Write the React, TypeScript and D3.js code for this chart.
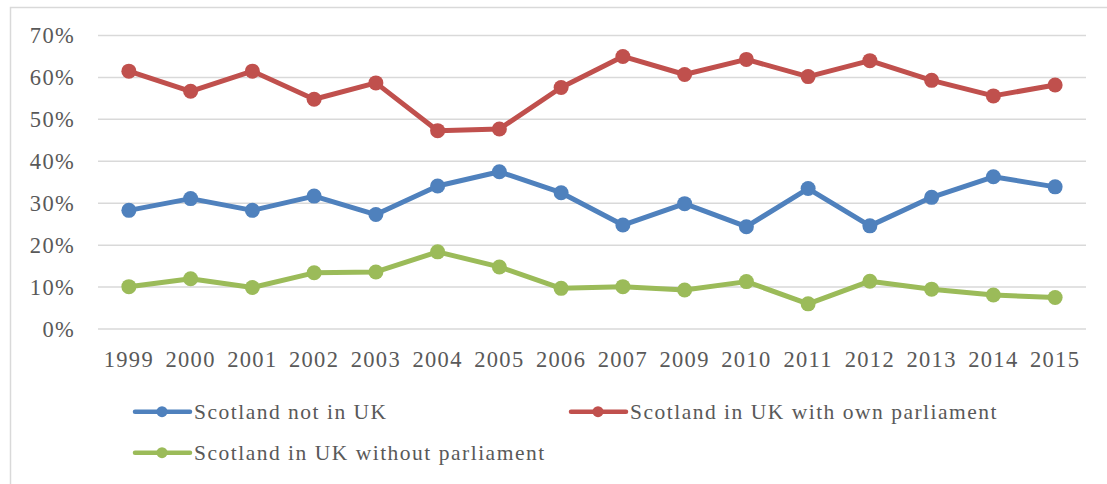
import React from "react";
import * as d3 from "d3";

const years = ["1999","2000","2001","2002","2003","2004","2005","2006","2007","2009","2010","2011","2012","2013","2014","2015"];
const notInUK = [28.3,31.1,28.3,31.7,27.3,34.1,37.5,32.5,24.8,29.9,24.4,33.5,24.6,31.4,36.3,33.9];
const withParliament = [61.5,56.7,61.5,54.8,58.7,47.3,47.7,57.6,65.0,60.7,64.3,60.2,64.0,59.3,55.6,58.2];
const withoutParliament = [10.1,12.0,9.9,13.4,13.6,18.4,14.8,9.7,10.1,9.3,11.3,6.0,11.4,9.5,8.1,7.5];
const yTicks = [0,10,20,30,40,50,60,70];
const seriesNames = ["Scotland not in UK","Scotland in UK with own parliament","Scotland in UK without parliament"];
const seriesColors = ["#4F81BD","#C0504D","#9BBB59"];

const W = 1107, H = 484;
const FONT = "'Liberation Serif', 'Times New Roman', serif";

export default function App() {
  const series = [notInUK, withParliament, withoutParliament];
  const x = d3.scaleBand<string>().domain(years).range([98, 1086]);
  const y = d3.scaleLinear().domain([0, 70]).range([329, 35.5]);
  const line = d3.line<number>()
    .x((_, i) => (x(years[i]) as number) + x.bandwidth() / 2)
    .y((v) => y(v));

  const legendItems = [
    { lx: 135, ly: 411.7 },
    { lx: 571, ly: 411.7 },
    { lx: 135, ly: 452.7 },
  ];

  return (
    <svg width={W} height={H} style={{ position: "absolute", left: 0, top: 0, background: "#fff" }}>
      <rect x={0} y={0} width={W} height={H} fill="#fff" />
      <rect x={10.5} y={7.5} width={1300} height={700} fill="none" stroke="#D9D9D9" strokeWidth={1.5} />
      {yTicks.map((t) => (
        <g key={t}>
          <line x1={98} x2={1086} y1={y(t)} y2={y(t)} stroke="#D9D9D9" strokeWidth={1.5} />
          <text x={75} y={y(t) + 7.5} textAnchor="end" fontFamily={FONT} fontSize={22.5} letterSpacing={1.3} fill="#595959">
            {t}%
          </text>
        </g>
      ))}
      {years.map((yr) => (
        <text key={yr} x={(x(yr) as number) + x.bandwidth() / 2} y={366.5} textAnchor="middle" fontFamily={FONT} fontSize={22.5} letterSpacing={1.3} fill="#595959">
          {yr}
        </text>
      ))}
      {series.map((s, si) => (
        <g key={si}>
          <path d={line(s) || ""} fill="none" stroke={seriesColors[si]} strokeWidth={5} strokeLinejoin="round" strokeLinecap="round" />
          {s.map((v, i) => (
            <circle key={i} cx={(x(years[i]) as number) + x.bandwidth() / 2} cy={y(v)} r={7.5} fill={seriesColors[si]} />
          ))}
        </g>
      ))}
      {seriesNames.map((name, i) => {
        const { lx, ly } = legendItems[i];
        return (
          <g key={name}>
            <line x1={lx} x2={lx + 55} y1={ly} y2={ly} stroke={seriesColors[i]} strokeWidth={4.5} strokeLinecap="round" />
            <circle cx={lx + 27} cy={ly} r={5.5} fill={seriesColors[i]} />
            <text x={lx + 59} y={ly + 6.8} fontFamily={FONT} fontSize={21.5} letterSpacing={1.5} fill="#595959">
              {name}
            </text>
          </g>
        );
      })}
    </svg>
  );
}
